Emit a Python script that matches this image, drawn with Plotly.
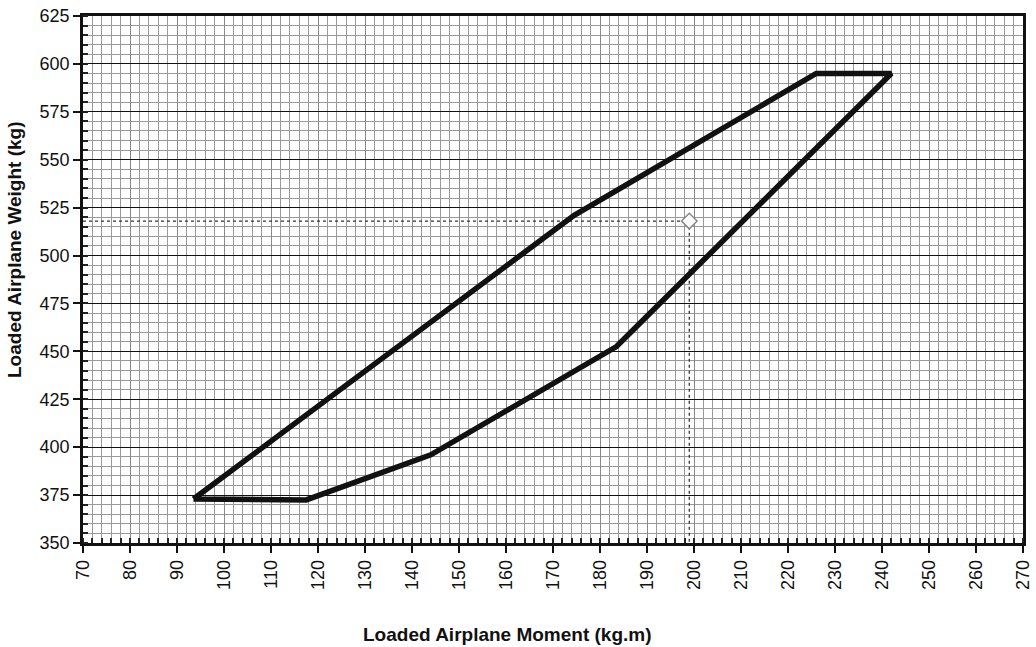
import plotly.graph_objects as go

# Envelope (moment kg.m, weight kg)
env_moment = [93.5, 117.5, 144, 183.5, 242, 226, 174.5, 93.5]
env_weight = [373, 372.5, 396, 452.5, 595, 595, 521, 373]

# Loaded point
pt_moment = [199]
pt_weight = [518]

x_ticks = list(range(70, 271, 10))
y_ticks = list(range(350, 626, 25))

fig = go.Figure()

# dotted guide lines to the point
fig.add_trace(go.Scatter(x=[70, pt_moment[0], pt_moment[0]], y=[pt_weight[0], pt_weight[0], 350],
                         mode="lines", line=dict(color="#333", width=1.3, dash="dot"),
                         showlegend=False, hoverinfo="skip"))

fig.add_trace(go.Scatter(x=env_moment, y=env_weight, mode="lines",
                         line=dict(color="#111", width=5.5), showlegend=False))

fig.add_trace(go.Scatter(x=pt_moment, y=pt_weight, mode="markers",
                         marker=dict(symbol="diamond", size=12, color="white",
                                     line=dict(color="#888", width=1.5)),
                         showlegend=False))

fam = "Liberation Sans, Arial, sans-serif"

fig.update_layout(
    width=1036, height=647,
    margin=dict(l=83, r=13, t=16, b=104),
    paper_bgcolor="white", plot_bgcolor="white",
    font=dict(family=fam, size=18, color="#111"),
    xaxis=dict(range=[70, 270], tickvals=x_ticks, ticktext=[str(v) for v in x_ticks],
               tickangle=-90, ticks="outside", ticklen=7, tickwidth=1.5, tickcolor="#111",
               showline=True, linecolor="#111", linewidth=2.5, mirror=True,
               showgrid=True, gridcolor="#888", gridwidth=1,
               minor=dict(dtick=2, showgrid=True, gridcolor="#999", gridwidth=1,
                          ticks="inside", ticklen=5, tickcolor="#222"),
               zeroline=False, automargin=False),
    yaxis=dict(range=[350, 625], tickvals=y_ticks, ticktext=[str(v) for v in y_ticks],
               ticks="outside", ticklen=7, tickwidth=1.5, tickcolor="#111",
               showline=True, linecolor="#111", linewidth=2.5, mirror=True,
               showgrid=True, gridcolor="#111", gridwidth=1,
               minor=dict(dtick=5, showgrid=True, gridcolor="#999", gridwidth=1,
                          ticks="inside", ticklen=5, tickcolor="#222"),
               zeroline=False, automargin=False),
    annotations=[
        dict(text="<b>Loaded Airplane Moment (kg.m)</b>", xref="paper", yref="paper",
             x=(507 - 83) / 940, y=-(634 - 543) / 527, xanchor="center", yanchor="middle",
             showarrow=False, font=dict(family=fam, size=19, color="#111")),
        dict(text="<b>Loaded Airplane Weight (kg)</b>", xref="paper", yref="paper",
             x=-(83 - 15) / 940, y=(543 - 250) / 527, xanchor="center", yanchor="middle",
             textangle=-90, showarrow=False, font=dict(family=fam, size=19, color="#111")),
    ],
)

fig.write_html("out.html", config={"displayModeBar": False},
               post_script="document.body.style.margin='0';document.body.style.overflow='hidden';")
